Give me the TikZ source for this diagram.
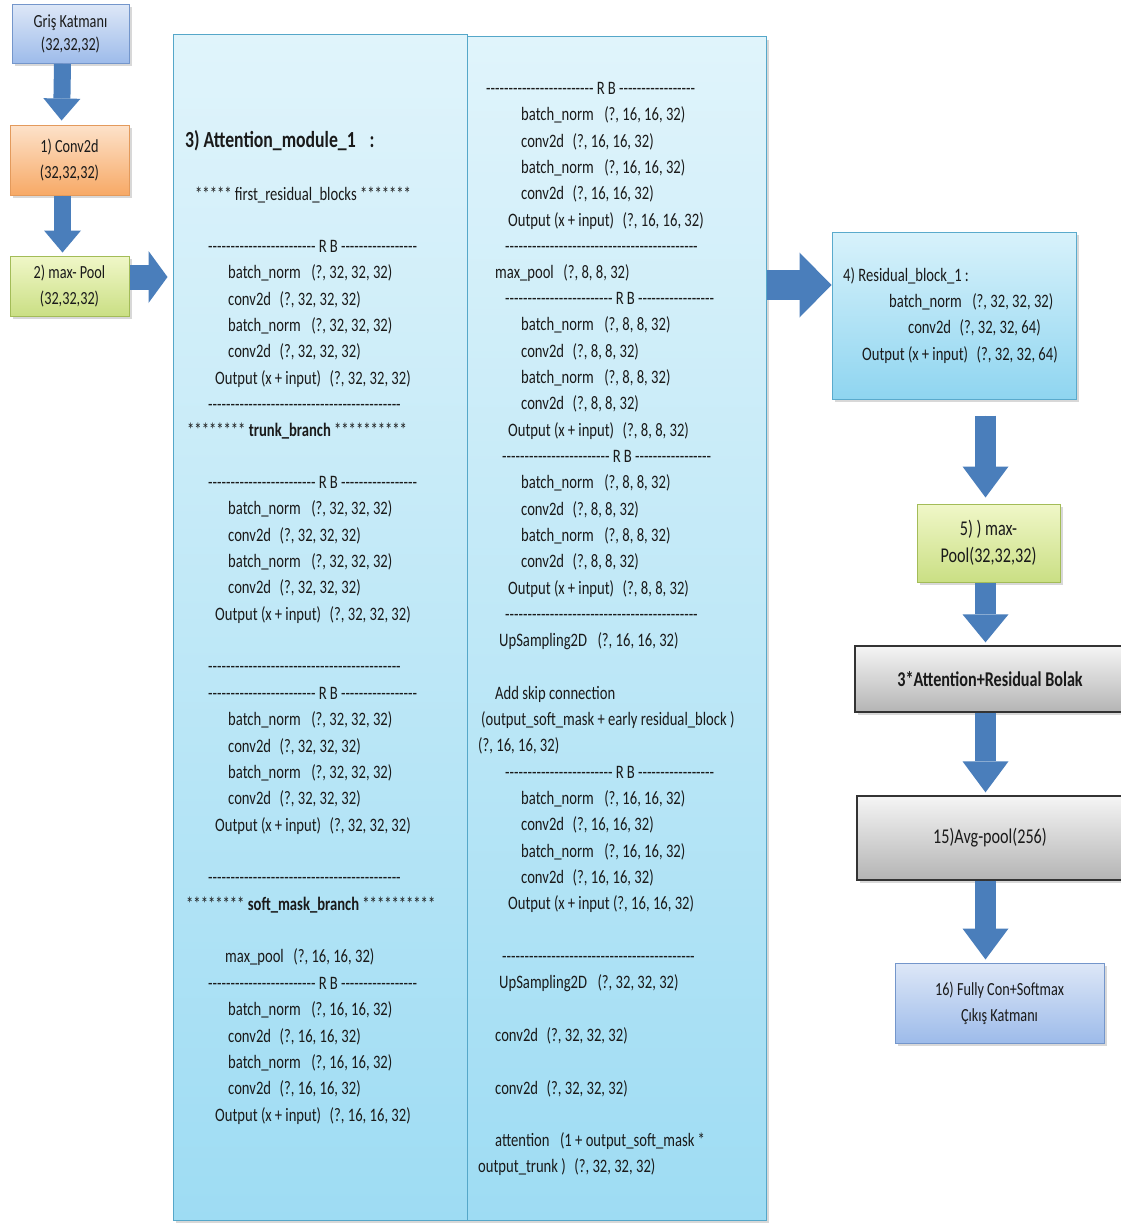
\documentclass[tikz,border=0pt]{standalone}
\usepackage{fontspec}
\setmainfont{Carlito}[FakeStretch=0.77]
\usetikzlibrary{arrows.meta,shadows,calc}

\definecolor{arrowblue}{HTML}{4A7EBB}
\definecolor{inkgray}{HTML}{1A1A1A}

% a row of plain hyphens (kerns keep them from turning into dashes)
\newcommand\hy[1]{\count255=0 \loop -\kern0pt\advance\count255 by 1 \ifnum\count255<#1\repeat}
\newcommand\rbline{\hy{24}\,R\,B\,\hy{17}}
\newcommand\fullline{\hy{43}}
\newcommand\bnl[1]{batch\_norm\hspace{0.55em}(?, #1)}
\newcommand\cvl[1]{conv2d\hspace{0.45em}(?, #1)}
\newcommand\outl[1]{Output (x\,+\,input)\hspace{0.45em}(?, #1)}

% one residual block listing: #1 x of RB rule, #2 x of layers, #3 x of output,
% #4 y of RB rule, #5 shape, #6 name prefix
\newcommand\resblock[6]{%
  \node[txt] (#6-rb) at (#1,#4) {\rbline};
  \node[txt] (#6-1) at (#2,{#4+26.3}) {\bnl{#5}};
  \node[txt] (#6-2) at (#2,{#4+52.6}) {\cvl{#5}};
  \node[txt] (#6-3) at (#2,{#4+78.9}) {\bnl{#5}};
  \node[txt] (#6-4) at (#2,{#4+105.2}) {\cvl{#5}};
  \node[txt] (#6-5) at (#3,{#4+131.5}) {\outl{#5}};
}

\begin{document}
\begin{tikzpicture}[x=1pt,y=-1pt,
  txt/.style={anchor=west, inner sep=0pt, text=inkgray,
    font=\fontsize{19}{21}\selectfont, text height=13pt, text depth=4pt},
  box/.style={draw, line width=1pt, rectangle, inner sep=2pt, align=center,
    text=inkgray, drop shadow={opacity=0.3, shadow xshift=2.5pt, shadow yshift=-3pt}},
  panel/.style={box, draw=HTMLpanel, top color=panelTop, bottom color=panelBot},
  bluebox/.style={box, draw=blueEdge, top color=blueTop, bottom color=blueBot,
    font=\fontsize{18.5}{23}\selectfont},
  orangebox/.style={box, draw=orangeEdge, top color=orangeTop, bottom color=orangeBot,
    font=\fontsize{18.5}{26}\selectfont},
  greenbox/.style={box, draw=greenEdge, top color=greenTop, bottom color=greenBot,
    font=\fontsize{18.5}{26}\selectfont},
  cyanbox/.style={box, draw=cyanEdge, top color=cyanTop, bottom color=cyanBot},
  graybox/.style={box, draw=grayEdge, line width=1.3pt, top color=grayTop, bottom color=grayBot,
    font=\fontsize{21}{24}\selectfont},
  flow/.style={draw=arrowblue, fill=arrowblue, line width=#1},
  flow/.default=17pt
]
\definecolor{HTMLpanel}{HTML}{55A7C9}
\definecolor{panelTop}{HTML}{E0F4FB}
\definecolor{panelBot}{HTML}{9EDCF3}
\definecolor{blueEdge}{HTML}{7496CB}
\definecolor{blueTop}{HTML}{DDE7F7}
\definecolor{blueBot}{HTML}{9DBBEA}
\definecolor{orangeEdge}{HTML}{E39A5C}
\definecolor{orangeTop}{HTML}{FDE2CA}
\definecolor{orangeBot}{HTML}{F7A966}
\definecolor{greenEdge}{HTML}{A3BC58}
\definecolor{greenTop}{HTML}{F0F7C8}
\definecolor{greenBot}{HTML}{CADF84}
\definecolor{cyanEdge}{HTML}{5AAACC}
\definecolor{cyanTop}{HTML}{D8F2FB}
\definecolor{cyanBot}{HTML}{8FD5F0}
\definecolor{grayEdge}{HTML}{333333}
\definecolor{grayTop}{HTML}{F5F5F5}
\definecolor{grayBot}{HTML}{B4B4B4}

\useasboundingbox[fill=white] (0,0) rectangle (1121,1223);

% ---- left column ----
\node[bluebox, minimum width=117pt, minimum height=59pt] (gris) at (70.5,34)
  {Griş Katmanı\\(32,32,32)};
\node[orangebox, minimum width=119pt, minimum height=70pt] (conv) at (69.5,160)
  {1) Conv2d\\(32,32,32)};
\node[greenbox, minimum width=119pt, minimum height=60pt] (mpA) at (69.5,286)
  {2) max- Pool\\(32,32,32)};

% ---- attention module panels ----
\node[panel, minimum width=294pt, minimum height=1185pt] (panelL) at (320,627.5) {};
\node[panel, minimum width=299pt, minimum height=1183pt] (panelR) at (616.5,628.5) {};

% ---- right column ----
\node[cyanbox, minimum width=244pt, minimum height=167pt] (res) at (954,315.5) {};
\node[greenbox, font=\fontsize{21}{27}\selectfont, minimum width=143pt, minimum height=78pt]
  (mpB) at (988.5,543) {5) ) max-\\Pool(32,32,32)};
\node[graybox, minimum width=270pt, minimum height=66pt] (att) at (990,679)
  {\bfseries 3*Attention+Residual Bolak};
\node[graybox, minimum width=266pt, minimum height=84pt] (avg) at (990,838)
  {15)Avg-pool(256)};
\node[bluebox, font=\fontsize{18.5}{26}\selectfont, minimum width=209pt, minimum height=80pt]
  (fc) at (999.5,1003) {16) Fully Con+Softmax\\Çıkış Katmanı};

% ---- block arrows ----
\draw[flow=17pt, -{Triangle[width=37pt,length=22pt,line width=0pt]}, shorten >=4pt]
  ([xshift=-8pt]gris.south) -- ([xshift=-8pt]conv.north);
\draw[flow=17pt, -{Triangle[width=37pt,length=22pt,line width=0pt]}, shorten >=3pt]
  ([xshift=-7pt]conv.south) -- ([xshift=-7pt]mpA.north);
\draw[flow=25pt, -{Triangle[width=52pt,length=19pt,line width=0pt]}, shorten >=5pt]
  ([yshift=9pt]mpA.east) -- ([yshift=9pt]mpA.east -| panelL.west);
\draw[flow=30pt, -{Triangle[width=65pt,length=32pt,line width=0pt]}]
  ([yshift=30.5pt]res.west -| panelR.east) -- ([yshift=30.5pt]res.west);
\draw[flow=21pt, -{Triangle[width=46pt,length=31pt,line width=0pt]},
  shorten <=16pt, shorten >=6pt]
  ([xshift=-3pt]res.south -| mpB.north) -- ([xshift=-3pt]mpB.north);
\draw[flow=21pt, -{Triangle[width=46pt,length=28pt,line width=0pt]}, shorten >=3pt]
  ([xshift=-3pt]mpB.south) -- ([xshift=-3pt]att.north -| mpB.south);
\draw[flow=21pt, -{Triangle[width=46pt,length=31pt,line width=0pt]}, shorten >=3pt]
  ([xshift=-3pt]att.south -| mpB.south) -- ([xshift=-3pt]avg.north -| mpB.south);
\draw[flow=21pt, -{Triangle[width=46pt,length=31pt,line width=0pt]}, shorten >=3pt]
  ([xshift=-3pt]avg.south -| mpB.south) -- ([xshift=-3pt]fc.north -| mpB.south);

% ---- residual block 1 text ----
\node[txt] (r0) at (843,277) {4) Residual\_block\_1\,:};
\node[txt] (r1) at (889,303) {\bnl{32, 32, 32}};
\node[txt] (r2) at (908,329) {\cvl{32, 32, 64}};
\node[txt] (r3) at (862,356) {\outl{32, 32, 64}};

% ---- left panel listing ----
\node[txt, font=\fontsize{23}{25}\selectfont\bfseries] (head) at (185,143)
  {3) Attention\_module\_1\hspace{0.6em}:};
\node[txt] (frb) at (195,196) {***** first\_residual\_blocks *******};
\resblock{208}{228}{215}{248}{32, 32, 32}{LA}
\node[txt] (LAend) at (208,406) {\fullline};
\node[txt] (trunk) at (187,432) {******** \textbf{trunk\_branch} **********};
\resblock{208}{228}{215}{484}{32, 32, 32}{LB}
\node[txt] (LBend) at (208,668) {\fullline};
\resblock{208}{228}{215}{695}{32, 32, 32}{LC}
\node[txt] (LCend) at (208,879) {\fullline};
\node[txt] (soft) at (186,906) {******** \textbf{soft\_mask\_branch} **********};
\node[txt] (mpL) at (225,958) {max\_pool\hspace{0.5em}(?, 16, 16, 32)};
\resblock{208}{228}{215}{985}{16, 16, 32}{LD}

% ---- right panel listing ----
\resblock{486}{521}{508}{90}{16, 16, 32}{RA}
\node[txt] (RAend) at (505,248) {\fullline};
\node[txt] (mpR) at (495,274) {max\_pool\hspace{0.5em}(?, 8, 8, 32)};
\resblock{505}{521}{508}{300}{8, 8, 32}{RB}
\resblock{502}{521}{508}{458}{8, 8, 32}{RC}
\node[txt] (RCend) at (505,616) {\fullline};
\node[txt] (up1) at (499,642) {UpSampling2D\hspace{0.55em}(?, 16, 16, 32)};
\node[txt] (skip1) at (495,695) {Add skip connection};
\node[txt] (skip2) at (481,721) {(output\_soft\_mask + early residual\_block )};
\node[txt] (skip3) at (478,747) {(?, 16, 16, 32)};
\node[txt] (RD-rb) at (505,774) {\rbline};
\node[txt] (RD-1) at (521,800) {\bnl{16, 16, 32}};
\node[txt] (RD-2) at (521,826) {\cvl{16, 16, 32}};
\node[txt] (RD-3) at (521,853) {\bnl{16, 16, 32}};
\node[txt] (RD-4) at (521,879) {\cvl{16, 16, 32}};
\node[txt] (RD-5) at (508,905) {Output (x\,+\,input (?, 16, 16, 32)};
\node[txt] (RDend) at (502,958) {\fullline};
\node[txt] (up2) at (499,984) {UpSampling2D\hspace{0.55em}(?, 32, 32, 32)};
\node[txt] (cv1) at (495,1037) {\cvl{32, 32, 32}};
\node[txt] (cv2) at (495,1090) {\cvl{32, 32, 32}};
\node[txt] (att1) at (495,1142) {attention\hspace{0.55em}(1 +\ output\_soft\_mask *};
\node[txt] (att2) at (478,1168) {output\_trunk )\hspace{0.45em}(?, 32, 32, 32)};
\end{tikzpicture}
\end{document}
